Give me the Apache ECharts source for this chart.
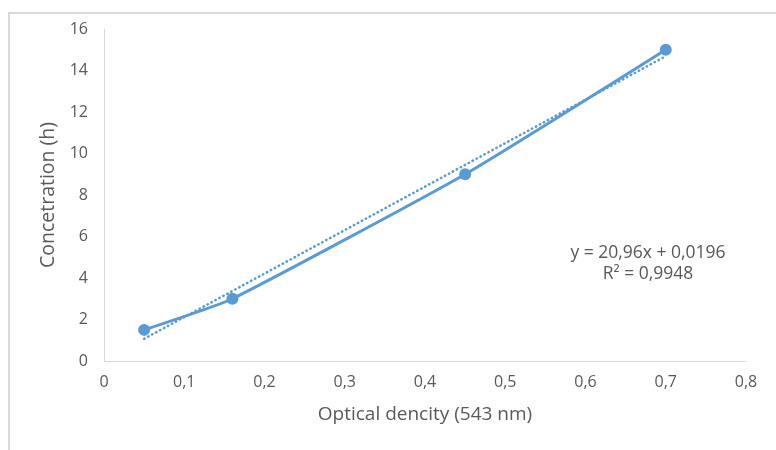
<!DOCTYPE html>
<html>
<head>
<meta charset="utf-8">
<script src="https://cdn.jsdelivr.net/npm/echarts@6/dist/echarts.min.js"></script>
<style>
  html, body { margin: 0; padding: 0; background: #fff; }
  #main { width: 776px; height: 450px; }
</style>
</head>
<body>
<div id="main"></div>
<script>
// measured points
var densityX = [0.05, 0.16, 0.45, 0.70];
var concY = [1.5, 3, 9, 15];
// linear trendline ends
var trendX = [0.05, 0.70];
var trendY = [1.07, 14.69];
var trendText = ["y = 20,96x + 0,0196", "R\u00b2 = 0,9948"];

var labelColor = "#595959";
var lineColor = "#5b9bd5";
var font = "'Open Sans', sans-serif";

function comma(v) {
  return String(Math.round(v * 10) / 10).replace(".", ",");
}

var myChart = echarts.init(document.getElementById("main"));
myChart.setOption({
  animation: false,
  backgroundColor: "#fff",
  grid: { left: 104, top: 29, right: 30, bottom: 89 },
  xAxis: {
    type: "value",
    min: 0,
    max: 0.8,
    interval: 0.1,
    name: "Optical dencity (543 nm)",
    nameLocation: "middle",
    nameGap: 44,
    nameTextStyle: { color: labelColor, fontSize: 19, fontFamily: font },
    axisLine: { show: true, lineStyle: { color: "#d9d9d9", width: 1 } },
    axisTick: { show: false },
    splitLine: { show: false },
    axisLabel: {
      color: labelColor, fontSize: 16, fontFamily: font, margin: 13,
      formatter: comma
    }
  },
  yAxis: {
    type: "value",
    min: 0,
    max: 16,
    interval: 2,
    name: "Concetration (h)",
    nameLocation: "middle",
    nameGap: 45,
    nameTextStyle: { color: labelColor, fontSize: 19.5, fontFamily: font },
    axisLine: { show: true, lineStyle: { color: "#d9d9d9", width: 1 } },
    axisTick: { show: false },
    splitLine: { show: false },
    axisLabel: { color: labelColor, fontSize: 16, fontFamily: font, margin: 16 }
  },
  series: [
    {
      name: "trend",
      type: "line",
      data: trendX.map(function (x, i) { return [x, trendY[i]]; }),
      showSymbol: false,
      z: 1,
      lineStyle: { color: lineColor, width: 2.5, type: [0.5, 4], cap: "round" }
    },
    {
      name: "data",
      type: "line",
      data: densityX.map(function (x, i) { return [x, concY[i]]; }),
      smooth: 0.15,
      symbol: "circle",
      symbolSize: 12,
      z: 2,
      itemStyle: { color: lineColor },
      lineStyle: { color: lineColor, width: 3 }
    }
  ],
  graphic: [
    {
      type: "polyline",
      shape: { points: [[9, 450], [9, 13], [776, 13]] },
      style: { stroke: "#d9d9d9", lineWidth: 2, fill: null }
    },
    {
      type: "text",
      x: 648,
      y: 243,
      style: {
        text: trendText.join("\n"),
        align: "center",
        verticalAlign: "top",
        fill: labelColor,
        font: "17.5px " + font,
        lineHeight: 21
      }
    }
  ]
});
</script>
</body>
</html>
